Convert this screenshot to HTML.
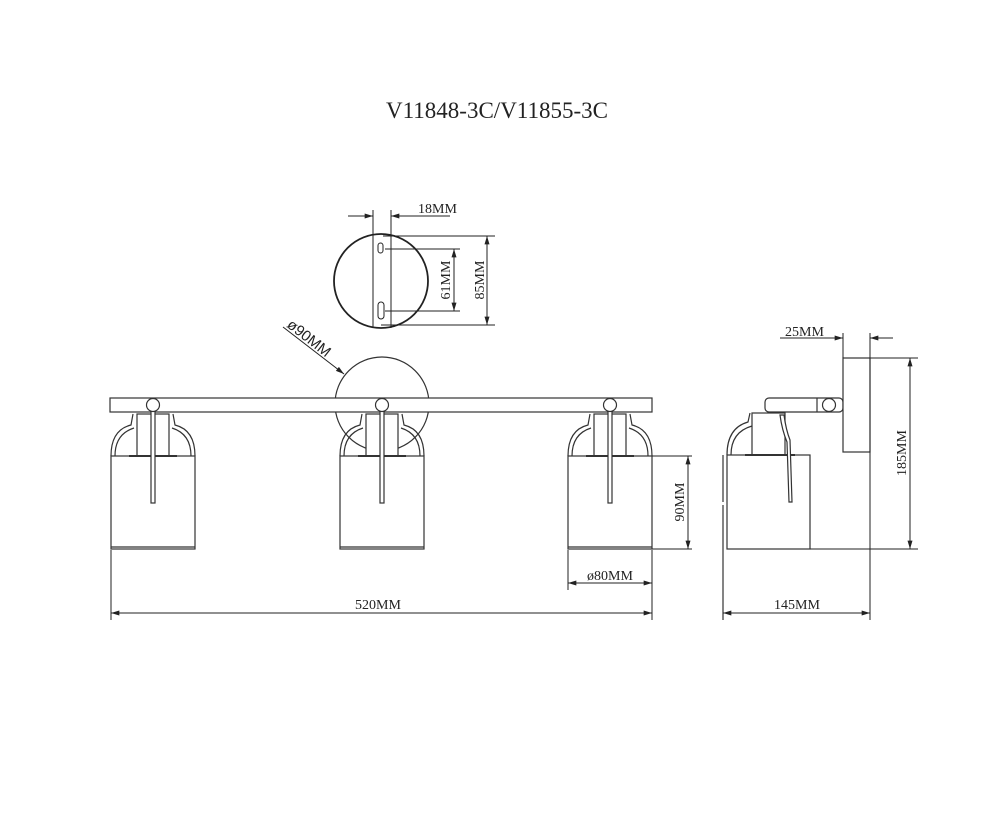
<!DOCTYPE html>
<html><head><style>body{margin:0;background:#fff}svg{display:block}</style></head><body>
<svg width="1000" height="819" viewBox="0 0 1000 819" xmlns="http://www.w3.org/2000/svg" font-family="'Liberation Serif',serif">
<defs>
<marker id="a" viewBox="0 0 10 6" refX="10" refY="3" markerWidth="12" markerHeight="5" orient="auto-start-reverse" markerUnits="userSpaceOnUse"><path d="M0,0L10,3L0,6z" fill="#222"/></marker>
<g id="lamp" fill="none" stroke="#333" stroke-width="1.2">
<rect x="-42" y="456" width="84" height="93" fill="#fff"/>
<line x1="-42" y1="547" x2="42" y2="547"/>
<path d="M-42,456 Q-42,430 -22,425 L-20,414 M42,456 Q42,430 22,425 L20,414"/>
<path d="M-38,456 Q-38,434 -19,428 M38,456 Q38,434 19,428"/>
<rect x="-16" y="414" width="32" height="42" fill="#fff"/>
<line x1="-24" y1="456" x2="24" y2="456" stroke-width="2"/>
<rect x="-2" y="410" width="4" height="93" fill="#fff"/>
<circle cx="0" cy="405" r="6.5" fill="#fff"/>
</g>
</defs>
<text x="497" y="118" font-size="23" text-anchor="middle" fill="#222">V11848-3C/V11855-3C</text>
<g fill="none" stroke="#222" stroke-width="1">
<!-- top plate -->
<circle cx="381" cy="281" r="47" stroke-width="1.8"/>
<line x1="373" y1="210" x2="373" y2="328"/>
<line x1="391" y1="210" x2="391" y2="328"/>
<rect x="378" y="243" width="5" height="10" rx="2.5"/>
<rect x="378" y="302" width="6" height="17" rx="3"/>
<line x1="348" y1="216" x2="373" y2="216" marker-end="url(#a)"/>
<line x1="450" y1="216" x2="391" y2="216" marker-end="url(#a)"/>
<line x1="383" y1="236" x2="495" y2="236"/><line x1="381" y1="325" x2="495" y2="325"/>
<line x1="385" y1="249" x2="460" y2="249"/><line x1="385" y1="311" x2="460" y2="311"/>
<line x1="487" y1="236" x2="487" y2="325" marker-start="url(#a)" marker-end="url(#a)"/>
<line x1="454" y1="249" x2="454" y2="311" marker-start="url(#a)" marker-end="url(#a)"/>
<!-- back circle and bar -->
<circle cx="382" cy="404" r="47" stroke="#333" stroke-width="1.2"/>
<line x1="283" y1="327" x2="344" y2="374" marker-end="url(#a)"/>
<rect x="110" y="398" width="542" height="14" fill="#fff" stroke="#333" stroke-width="1.2"/>
</g>
<use href="#lamp" x="153"/><use href="#lamp" x="382"/><use href="#lamp" x="610"/>
<!-- side view -->
<g fill="none" stroke="#333" stroke-width="1.2">
<rect x="765" y="398" width="78" height="14" rx="4" fill="#fff"/>
<line x1="817" y1="398" x2="817" y2="412"/>
<circle cx="829" cy="405" r="6.5" fill="#fff"/>
<rect x="843" y="358" width="27" height="94" fill="#fff"/>
<rect x="727" y="455" width="83" height="94" fill="#fff"/>
<path d="M727,455 Q727,428 748,422 L750,413"/>
<path d="M731,455 Q731,432 752,426"/>
<rect x="752" y="413" width="33" height="42" fill="#fff"/>
<line x1="745" y1="455" x2="795" y2="455" stroke-width="2"/>
<path d="M780,415 L784,415 Q786,430 790,440 L792,502 L789,502 L787,442 Q782,430 780,415z" fill="#fff"/>
<path d="M723,455 L723,502 M723,505 L723,620"/>
</g>
<g fill="none" stroke="#222" stroke-width="1">
<line x1="843" y1="333" x2="843" y2="358"/><line x1="870" y1="333" x2="870" y2="620"/>
<line x1="780" y1="338" x2="843" y2="338" marker-end="url(#a)"/>
<line x1="893" y1="338" x2="870" y2="338" marker-end="url(#a)"/>
<line x1="870" y1="358" x2="918" y2="358"/><line x1="810" y1="549" x2="918" y2="549"/>
<line x1="910" y1="358" x2="910" y2="549" marker-start="url(#a)" marker-end="url(#a)"/>
<line x1="723" y1="613" x2="870" y2="613" marker-start="url(#a)" marker-end="url(#a)"/>
<!-- front dims -->
<line x1="652" y1="456" x2="692" y2="456"/><line x1="652" y1="549" x2="692" y2="549"/>
<line x1="688" y1="456" x2="688" y2="549" marker-start="url(#a)" marker-end="url(#a)"/>
<line x1="568" y1="550" x2="568" y2="590"/><line x1="652" y1="550" x2="652" y2="620"/>
<line x1="568" y1="583" x2="652" y2="583" marker-start="url(#a)" marker-end="url(#a)"/>
<line x1="111" y1="550" x2="111" y2="620"/>
<line x1="111" y1="613" x2="652" y2="613" marker-start="url(#a)" marker-end="url(#a)"/>
</g>
<g fill="#222" font-size="14">
<text x="418" y="213">18MM</text>
<text x="785" y="336">25MM</text>
<text x="378" y="609" text-anchor="middle">520MM</text>
<text x="797" y="609" text-anchor="middle">145MM</text>
<text x="610" y="580" text-anchor="middle">ø80MM</text>
<text transform="translate(450,280) rotate(-90)" text-anchor="middle">61MM</text>
<text transform="translate(484,280) rotate(-90)" text-anchor="middle">85MM</text>
<text transform="translate(684,502) rotate(-90)" text-anchor="middle">90MM</text>
<text transform="translate(906,453) rotate(-90)" text-anchor="middle">185MM</text>
<text transform="translate(306,342) rotate(38)" text-anchor="middle" font-family="'Liberation Sans',sans-serif" font-size="15">ø90MM</text>
</g>
</svg>
</body></html>
